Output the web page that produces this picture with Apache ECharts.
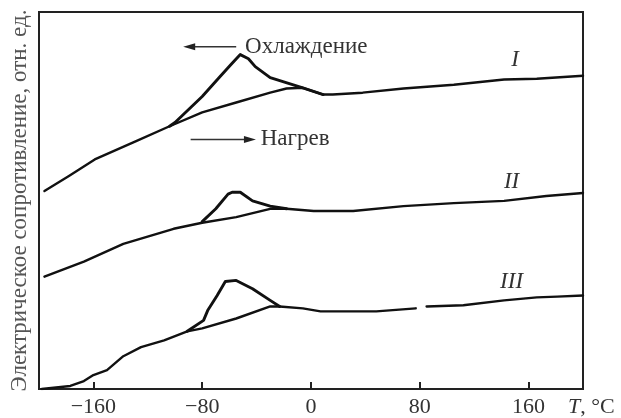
<!DOCTYPE html>
<html>
<head>
<meta charset="utf-8">
<script src="https://cdn.jsdelivr.net/npm/echarts@6/dist/echarts.min.js"></script>
<style>
html, body { margin: 0; padding: 0; background: #fff; }
#chart { width: 621px; height: 418px; }
</style>
</head>
<body>
<div id="chart"></div>
<script>
// tick labels of the temperature axis
var xTicks = [-160, -80, 0, 80, 160];

// curve I : heating (full run) and cooling (hysteresis loop)
var heatT1 = [-196, -178, -159, -129, -104, -80, -55, -30, -18, -6, 9, 16, 38, 68, 105, 142, 166, 200];
var heatY1 = [52.5, 56.5, 60.9, 65.7, 69.7, 73.4, 76.0, 78.6, 79.7, 79.9, 78.1, 78.1, 78.6, 79.7, 80.7, 82.1, 82.3, 83.1];
var coolT1 = [-104, -100, -80, -67, -59, -52, -46, -41, -30, -13, -6, 9];
var coolY1 = [69.7, 70.7, 77.6, 82.8, 86.0, 88.7, 87.6, 85.5, 82.6, 80.7, 79.9, 78.1];

// curve II
var heatT2 = [-196, -167, -138, -101, -80, -55, -30, -18, 2, 31, 68, 105, 142, 173, 200];
var heatY2 = [29.8, 33.8, 38.5, 42.5, 44.1, 45.6, 47.8, 47.8, 47.2, 47.2, 48.5, 49.3, 49.9, 51.2, 52.0];
var coolT2 = [-80, -70, -61, -58, -52, -43, -30, -18];
var coolY2 = [44.4, 47.8, 51.7, 52.2, 52.2, 49.9, 48.5, 47.8];

// curve III (the heating trace has a short break near 80 °C)
var heatT3 = [-198, -177, -167, -160, -150, -138, -125, -108, -91, -80, -55, -30, -23, -6, 7, 48, 77, 81, 85, 112, 142, 166, 181, 200];
var heatY3 = [0, 0.8, 2.1, 3.7, 5.0, 8.7, 11.1, 12.9, 15.3, 16.1, 18.7, 21.9, 21.9, 21.4, 20.6, 20.6, 21.4, null, 21.9, 22.2, 23.5, 24.3, 24.5, 24.8];
var coolT3 = [-91, -79, -76, -69, -63, -55, -43, -30, -23];
var coolY3 = [15.3, 18.2, 20.8, 24.8, 28.5, 28.8, 26.6, 23.5, 21.9];

var serif = 'Liberation Serif';
var ink = '#111';

function pairs(t, y) {
    return t.map(function (v, i) { return [v, y[i]]; });
}
function curve(t, y, w) {
    return {
        type: 'line',
        data: pairs(t, y),
        symbol: 'none',
        connectNulls: false,
        lineStyle: { color: ink, width: w, join: 'round', cap: 'round' },
        z: 3
    };
}

var myChart = echarts.init(document.getElementById('chart'));
var option = {
    animation: false,
    backgroundColor: '#fff',
    grid: {
        left: 38, right: 38, top: 12, bottom: 27,
        show: true,
        borderColor: '#222',
        borderWidth: 2
    },
    xAxis: {
        type: 'value',
        min: -200,
        max: 200,
        axisLine: { lineStyle: { color: '#222', width: 2 } },
        axisTick: {
            inside: true,
            length: 7,
            customValues: xTicks,
            lineStyle: { color: '#222', width: 2 }
        },
        axisLabel: {
            customValues: xTicks,
            margin: 7,
            color: '#333',
            fontFamily: serif,
            fontSize: 22,
            formatter: function (v) { return v < 0 ? '\u2212' + Math.abs(v) : String(v); }
        },
        splitLine: { show: false }
    },
    yAxis: {
        type: 'value',
        min: 0,
        max: 100,
        name: 'Электрическое сопротивление, отн. ед.',
        nameLocation: 'middle',
        nameGap: 8,
        nameTextStyle: { color: '#555', fontFamily: serif, fontSize: 23 },
        axisLine: { show: true, onZero: false, lineStyle: { color: '#222', width: 2 } },
        axisTick: { show: false },
        axisLabel: { show: false },
        splitLine: { show: false }
    },
    series: [
        curve(heatT1, heatY1, 2.4),
        curve(coolT1, coolY1, 2.9),
        curve(heatT2, heatY2, 2.4),
        curve(coolT2, coolY2, 2.9),
        curve(heatT3, heatY3, 2.4),
        curve(coolT3, coolY3, 2.9)
    ]
};
myChart.setOption(option);

// annotations placed in data coordinates, converted through the chart scales
var notes = [
    { text: 'Охлаждение', at: [-48.5, 90.8], italic: false },
    { text: 'Нагрев', at: [-37, 66.2], italic: false },
    { text: 'I', at: [150, 87.3], italic: true, center: true },
    { text: 'II', at: [147.5, 54.9], italic: true, center: true },
    { text: 'III', at: [147.5, 28.5], italic: true, center: true }
];
var arrows = [
    { from: [-55, 90.8], to: [-94, 90.8] },
    { from: [-88.5, 66.2], to: [-40.5, 66.2] }
];

function px(p) { return myChart.convertToPixel({ gridIndex: 0 }, p); }

var g = [];
notes.forEach(function (n) {
    var p = px(n.at);
    g.push({
        type: 'text',
        x: p[0], y: p[1],
        style: {
            text: n.text,
            fill: '#333',
            font: (n.italic ? 'italic ' : '') + '23px "' + serif + '"',
            textAlign: n.center ? 'center' : 'left',
            textVerticalAlign: 'middle'
        },
        z: 10
    });
});
arrows.forEach(function (a) {
    var p0 = px(a.from), p1 = px(a.to);
    var dir = p1[0] > p0[0] ? 1 : -1;
    g.push({
        type: 'line',
        shape: { x1: p0[0], y1: p0[1], x2: p1[0] - dir * 8, y2: p1[1] },
        style: { stroke: '#333', lineWidth: 1.5 },
        z: 10
    });
    g.push({
        type: 'polygon',
        shape: { points: [[p1[0], p1[1]], [p1[0] - dir * 12, p1[1] - 3.5], [p1[0] - dir * 12, p1[1] + 3.5]] },
        style: { fill: '#222' },
        z: 10
    });
});
// axis unit at the right end of the temperature axis
var endPt = px([200, 0]);
g.push({
    type: 'text',
    x: endPt[0] - 15, y: endPt[1] + 18,
    style: {
        text: '{i|T}, °C',
        rich: {
            i: { font: 'italic 22px "' + serif + '"', fill: '#333' }
        },
        font: '22px "' + serif + '"',
        fill: '#333',
        textAlign: 'left',
        textVerticalAlign: 'middle'
    },
    z: 10
});
myChart.setOption({ graphic: g });
</script>
</body>
</html>
